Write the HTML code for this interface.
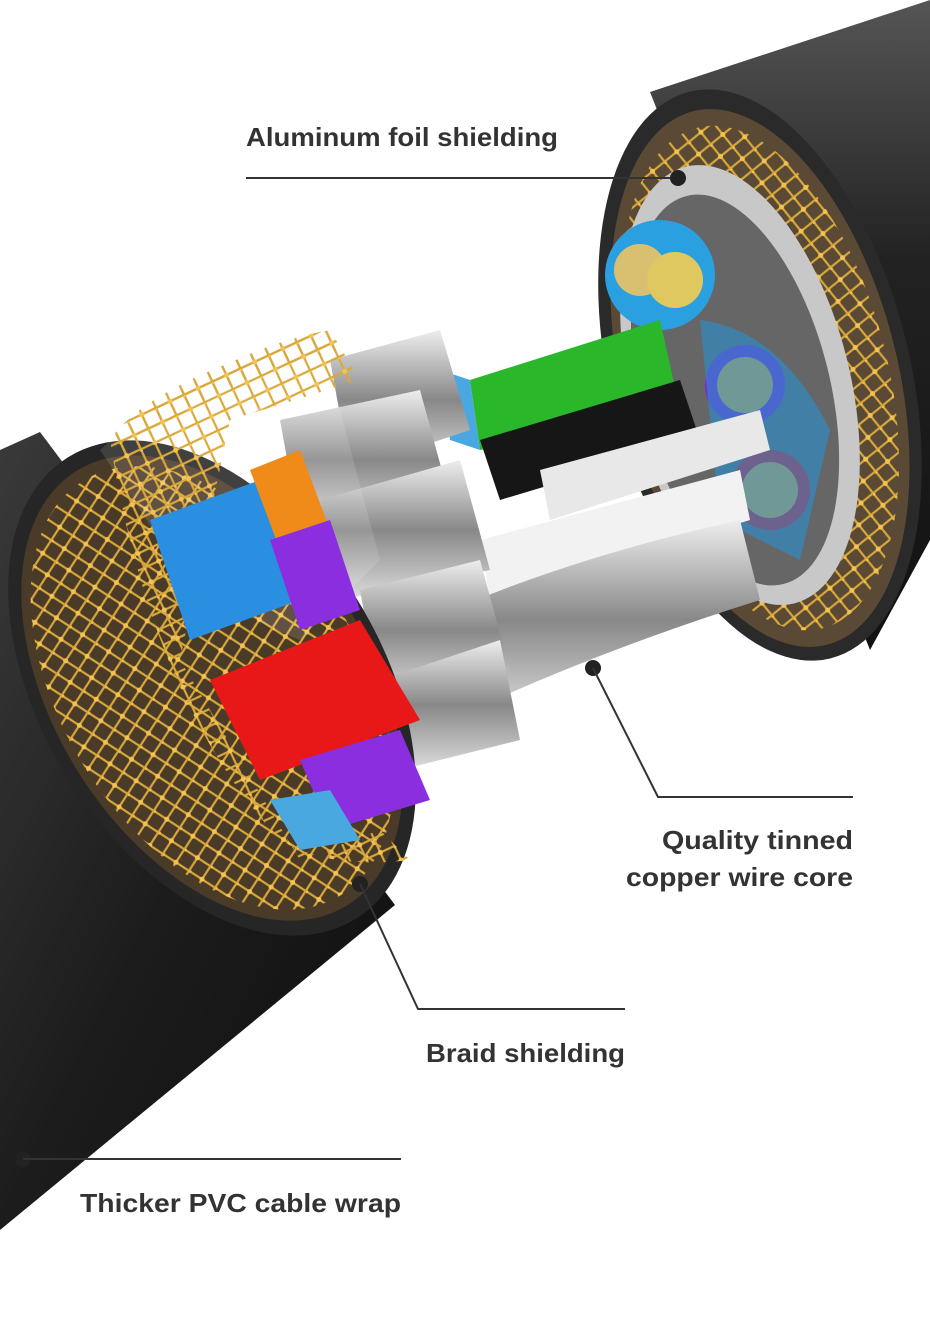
<!DOCTYPE html>
<html><head><meta charset="utf-8"><style>
html,body{margin:0;padding:0;background:#fff;}
svg{display:block;}
text{font-family:"Liberation Sans",sans-serif;font-weight:bold;fill:#333;font-size:26px;}
</style></head><body>
<svg width="930" height="1338" viewBox="0 0 930 1338" xmlns="http://www.w3.org/2000/svg">
<defs>
<linearGradient id="blk" x1="0" y1="0" x2="1" y2="1">
<stop offset="0" stop-color="#3a3a3a"/><stop offset="0.5" stop-color="#1c1c1c"/><stop offset="1" stop-color="#0e0e0e"/></linearGradient>
<linearGradient id="blk2" x1="0" y1="0" x2="0" y2="1">
<stop offset="0" stop-color="#555"/><stop offset="0.4" stop-color="#222"/><stop offset="1" stop-color="#111"/></linearGradient>
<linearGradient id="silv" x1="0" y1="0" x2="0" y2="1">
<stop offset="0" stop-color="#eee"/><stop offset="0.5" stop-color="#888"/><stop offset="1" stop-color="#ddd"/></linearGradient>
<pattern id="mesh" width="22" height="22" patternUnits="userSpaceOnUse" patternTransform="rotate(20)">
<path d="M0 0L22 22M22 0L0 22" stroke="#d9a83a" stroke-width="2.2"/>
<circle cx="0" cy="0" r="2.5" fill="#f2c255"/><circle cx="11" cy="11" r="2.5" fill="#f2c255"/></pattern>
</defs>
<rect width="930" height="1338" fill="#fff"/>
<path d="M650 92 L930 0 L930 540 L870 650 Z" fill="url(#blk2)"/>
<ellipse cx="760" cy="375" rx="150" ry="292" transform="rotate(-14 760 375)" fill="#2a2a2a"/>
<ellipse cx="760" cy="378" rx="138" ry="275" transform="rotate(-14 760 378)" fill="#5a4a35"/>
<ellipse cx="760" cy="378" rx="128" ry="258" transform="rotate(-14 760 378)" fill="url(#mesh)"/>
<ellipse cx="740" cy="385" rx="110" ry="225" transform="rotate(-14 740 385)" fill="#c8c8c8"/>
<ellipse cx="735" cy="390" rx="95" ry="200" transform="rotate(-14 735 390)" fill="#666"/>
<circle cx="660" cy="275" r="55" fill="#2aa0e0"/>
<circle cx="640" cy="270" r="26" fill="#d9c070"/><circle cx="675" cy="280" r="28" fill="#e0c860"/>
<circle cx="745" cy="385" r="40" fill="#7a2ccf"/><circle cx="745" cy="385" r="28" fill="#d9a640"/>
<circle cx="770" cy="490" r="40" fill="#d0202a"/><circle cx="770" cy="490" r="28" fill="#d9a640"/>
<path d="M700 320 Q780 330 830 430 L800 560 L720 520 Z" fill="#2a90d0" opacity="0.6"/>
<path d="M470 380 L660 320 L680 410 L480 450 Z" fill="#2ab82a"/>
<path d="M440 370 L470 380 L480 450 L450 440 Z" fill="#4aa8e0"/>
<path d="M480 440 L680 380 L700 440 L500 500 Z" fill="#161616"/>
<path d="M540 470 L760 410 L770 450 L550 520 Z" fill="#e8e8e8"/>
<path d="M480 540 L740 470 L750 520 L490 600 Z" fill="#f2f2f2"/>
<path d="M430 620 Q560 560 740 520 L760 600 Q600 650 450 720 Z" fill="url(#silv)"/>
<path d="M330 360 L440 330 L470 430 L350 470 Z" fill="url(#silv)"/>
<path d="M280 420 L420 390 L450 500 L300 530 Z" fill="url(#silv)"/>
<path d="M320 500 L460 460 L490 570 L340 600 Z" fill="url(#silv)"/>
<path d="M360 590 L480 560 L510 670 L380 700 Z" fill="url(#silv)"/>
<path d="M380 680 L500 640 L520 740 L400 770 Z" fill="url(#silv)"/>
<path d="M0 450 L40 432 L395 905 L0 1230 Z" fill="url(#blk)"/>
<ellipse cx="212" cy="688" rx="170" ry="272" transform="rotate(-32 212 688)" fill="#262626"/>
<ellipse cx="212" cy="688" rx="158" ry="256" transform="rotate(-32 212 688)" fill="#4a3a28"/>
<ellipse cx="212" cy="688" rx="150" ry="244" transform="rotate(-32 212 688)" fill="url(#mesh)"/>
<path d="M100 450 Q200 360 320 335 L380 560 L300 640 Q200 600 160 540 Z" fill="#fff" opacity="0.12"/>
<path d="M110 440 Q220 350 330 330 L360 380 L230 420 L180 660 L300 860 L380 830 L410 860 Q330 870 280 840 Q150 700 110 440 Z" fill="url(#mesh)"/>
<path d="M150 520 L260 480 L300 600 L190 640 Z" fill="#2a8fe0"/>
<path d="M250 470 L300 450 L330 530 L280 550 Z" fill="#f08a18"/>
<path d="M270 540 L330 520 L360 610 L300 630 Z" fill="#8a2ee0"/>
<path d="M210 680 L360 620 L420 720 L260 780 Z" fill="#e81818"/>
<path d="M300 760 L400 730 L430 800 L330 830 Z" fill="#8a2ee0"/>
<path d="M270 800 L330 790 L360 840 L300 850 Z" fill="#4aa8e0"/>
<path d="M110 440 Q150 380 330 330 L340 350 Q180 390 130 460 Z" fill="url(#mesh)"/>
<text x="246" y="146" textLength="312" lengthAdjust="spacingAndGlyphs">Aluminum foil shielding</text>
<line x1="246" y1="178" x2="678" y2="178" stroke="#333" stroke-width="2"/>
<circle cx="678" cy="178" r="8" fill="#222"/>
<circle cx="593" cy="668" r="8" fill="#222"/>
<polyline points="593,668 658,797 853,797" fill="none" stroke="#333" stroke-width="2"/>
<text x="662" y="849" textLength="191" lengthAdjust="spacingAndGlyphs">Quality tinned</text>
<text x="626" y="886" textLength="227" lengthAdjust="spacingAndGlyphs">copper wire core</text>
<circle cx="360" cy="884" r="8" fill="#222"/>
<polyline points="360,884 418,1009 625,1009" fill="none" stroke="#333" stroke-width="2"/>
<text x="426" y="1062" textLength="199" lengthAdjust="spacingAndGlyphs">Braid shielding</text>
<circle cx="23" cy="1159" r="8" fill="#222"/>
<line x1="23" y1="1159" x2="401" y2="1159" stroke="#333" stroke-width="2"/>
<text x="80" y="1212" textLength="321" lengthAdjust="spacingAndGlyphs">Thicker PVC cable wrap</text>
</svg>
</body></html>
